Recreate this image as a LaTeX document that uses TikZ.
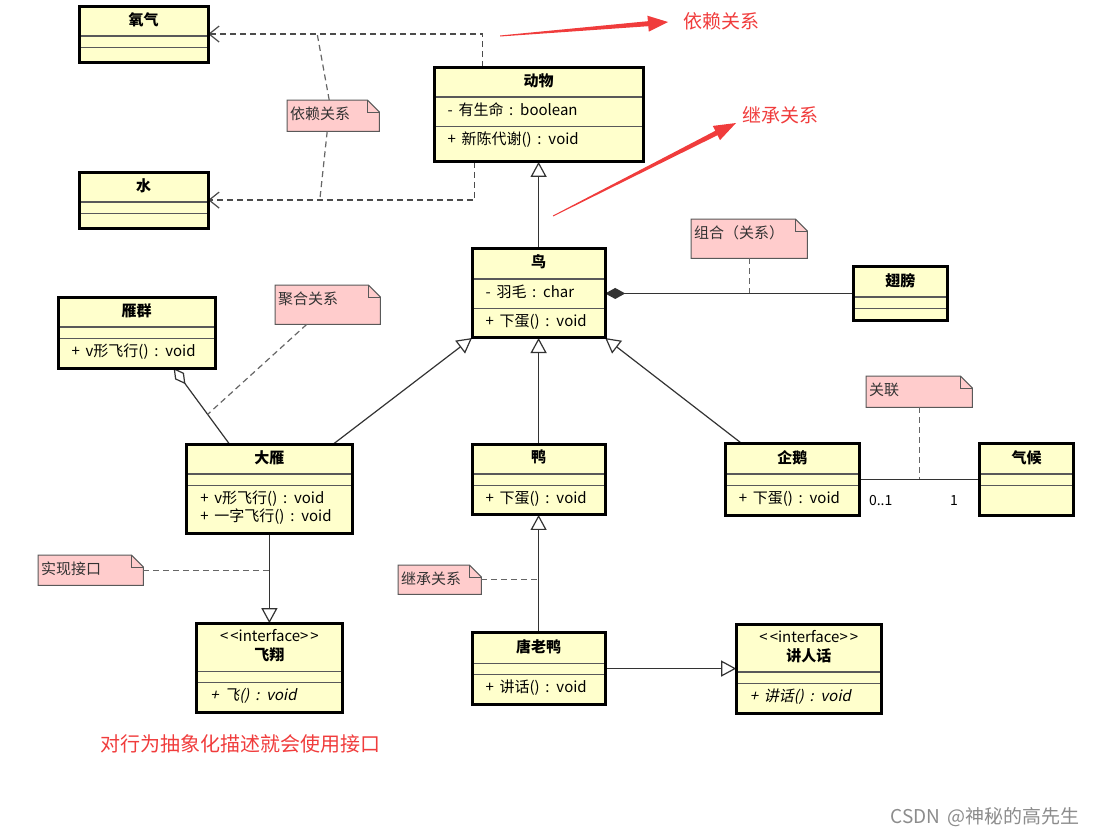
\documentclass[tikz,border=0pt]{standalone}
\usepackage{fontspec}
\setmainfont{Noto Sans CJK SC}[AutoFakeSlant=0.2,WordSpace=1.7]
\usetikzlibrary{arrows.meta,shapes.multipart,positioning,backgrounds}
\definecolor{classfill}{RGB}{255,255,204}
\definecolor{notefill}{RGB}{255,204,204}
\definecolor{annred}{RGB}{240,60,60}

\begin{document}
\begin{tikzpicture}[x=1pt,y=-1pt,
	font=\fontsize{15}{18}\selectfont,
	cls/.style={rectangle split,rectangle split parts=3,rectangle split part align={center,left,left},
		draw=black!65,line width=1.2pt,fill=classfill,inner xsep=13pt,inner ysep=5pt},
	border/.style={draw=black,line width=3pt},
	depend/.style={draw=black!70,line width=1.2pt,dash pattern=on 6pt off 4pt,-{Straight Barb[length=10pt,width=16pt]}},
	inherit/.style={draw=black!80,line width=1.2pt,-{Triangle[length=15pt,width=16pt,fill=white]}},
	compose/.style={draw=black!80,line width=1.2pt,{Diamond[length=20pt,width=11pt]}-},
	aggregate/.style={draw=black!80,line width=1.2pt,{Diamond[open,length=20pt,width=11pt]}-},
	assoc/.style={draw=black!80,line width=1.2pt},
	mult/.style={font=\fontsize{14}{16}\selectfont,inner sep=0pt},
	notelink/.style={draw=black!60,line width=1.2pt,dash pattern=on 6pt off 4pt},
	notebox/.style={anchor=north west,inner xsep=3pt,inner ysep=3pt,text height=16pt,align=left,text=black!80},
	notepaper/.style={draw=black!65,line width=1pt,fill=notefill},
	annot/.style={text=annred,font=\fontsize{19}{22}\selectfont}]
	\useasboundingbox (0,0) rectangle (1097,835);

	% classes (empty compartments hold a hair-thin kern)
	\node[cls,anchor=north west,minimum width=128pt] (oxygen) at (79,6) {\strut\textbf{氧气}\nodepart{two}\kern0.01pt\nodepart{three}\kern0.01pt\rule{0pt}{3pt}};
	\node[cls,minimum width=128pt,below=110pt of oxygen] (water) {\strut\textbf{水}\nodepart{two}\kern0.01pt\nodepart{three}\kern0.01pt\rule{0pt}{3pt}};
	\node[cls,anchor=north west,minimum width=208pt] (animal) at (434,67) {\strut\textbf{动物}\nodepart{two}\strut- 有生命 : boolean\nodepart{three}\strut+ 新陈代谢() : void\rule[-11pt]{0pt}{0pt}};
	\node[cls,minimum width=132pt,below=87pt of animal] (bird) {\strut\textbf{鸟}\nodepart{two}\strut- 羽毛 : char\nodepart{three}\strut+ 下蛋() : void};
	\node[cls,minimum width=93pt,right=248pt of bird] (wing) {\strut\textbf{翅膀}\nodepart{two}\kern0.01pt\nodepart{three}\kern0.01pt};
	\node[cls,anchor=north west,minimum width=156pt] (flock) at (58,297) {\strut\textbf{雁群}\nodepart{two}\kern0.01pt\nodepart{three}\strut+ v形飞行() : void};
	\node[cls,minimum width=132pt,below=106pt of bird] (duck) {\strut\textbf{鸭}\nodepart{two}\kern0.01pt\nodepart{three}\strut+ 下蛋() : void};
	\node[cls,minimum width=164pt,left=120pt of duck.north west,anchor=north east] (wildgoose) {\strut\textbf{大雁}\nodepart{two}\kern0.01pt\nodepart{three}\begin{tabular}{@{}l@{}}+ v形飞行() : void\\+ 一字飞行() : void\end{tabular}};
	\node[cls,minimum width=132pt,below=118pt of duck] (tangduck) {\strut\textbf{唐老鸭}\nodepart{two}\kern0.01pt\nodepart{three}\strut+ 讲话() : void};
	\node[cls,minimum width=133pt,right=120pt of duck] (penguin) {\strut\textbf{企鹅}\nodepart{two}\kern0.01pt\nodepart{three}\strut+ 下蛋() : void};
	\node[cls,minimum width=93pt,right=120pt of penguin] (climate) {\strut\textbf{气候}\nodepart{two}\kern0.01pt\nodepart{three}\strut};
	\node[cls,minimum width=144pt,below=90pt of wildgoose] (fly) {\begin{tabular}{@{}c@{}}<\kern2pt<interface>\kern2pt>\\\textbf{飞翔}\end{tabular}\nodepart{two}\kern0.01pt\nodepart{three}\strut\textit{+ 飞() : void}};
	\node[cls,minimum width=144pt,right=131pt of tangduck] (speak) {\begin{tabular}{@{}c@{}}<\kern2pt<interface>\kern2pt>\\\textbf{讲人话}\end{tabular}\nodepart{two}\kern0.01pt\nodepart{three}\strut\textit{+ 讲话() : void}};

	% notes
	\node[notebox,text width=86pt,text depth=9pt] (depnote) at (287,100) {依赖关系};
	\node[notebox,text width=110pt,text depth=17pt] (compnote) at (691,219) {组合（关系）};
	\node[notebox,text width=99pt,text depth=17pt] (aggnote) at (275,285) {聚合关系};
	\node[notebox,text width=100pt,text depth=9pt] (assocnote) at (866,376) {关联};
	\node[notebox,text width=99pt,text depth=8pt] (realnote) at (38,555) {实现接口};
	\node[notebox,text width=77pt,text depth=7pt] (inhnote) at (398,565) {继承关系};
	\begin{scope}[on background layer]
		\foreach \n in {depnote,compnote,aggnote,assocnote,realnote,inhnote}{
			\draw[notepaper] (\n.south west) -- (\n.north west) -- ([xshift=-12pt]\n.north east) -- ([yshift=-12pt]\n.north east) -- (\n.south east) -- cycle;
			\draw[notepaper,fill=none] ([xshift=-12pt]\n.north east) |- ([yshift=-12pt]\n.north east);
		}
	\end{scope}

	% relations
	\coordinate (oxyjoint) at (317,33);
	\coordinate (waterjoint) at (320,198);
	\draw[depend] ([xshift=-56pt]animal.north) |- (oxygen.east);
	\draw[depend] ([xshift=-64pt]animal.south) |- (water.east);
	\draw[notelink] ([xshift=-4pt]depnote.north) -- (oxyjoint);
	\draw[notelink] ([xshift=-6pt]depnote.south) -- (waterjoint);
	\draw[inherit] (bird.north) -- (animal.south);
	\draw[compose] (bird.east) -- (wing.west);
	\draw[notelink] (compnote.south) -- (compnote.south |- bird.east);
	\draw[aggregate] ([xshift=37pt]flock.south) -- coordinate[pos=0.61] (aggjoint) ([xshift=-40pt]wildgoose.north);
	\draw[notelink] ([xshift=-21pt]aggnote.south) -- (aggjoint);
	\draw[inherit] ([xshift=64pt]wildgoose.north) -- (bird.south west);
	\draw[inherit] (duck.north) -- (bird.south);
	\draw[inherit] ([xshift=-50pt]penguin.north) -- (bird.south east);
	\draw[assoc] (penguin.east) -- node[mult,at start,anchor=north west,xshift=9pt,yshift=-15pt] {0..1} node[mult,at end,anchor=north east,xshift=-21pt,yshift=-15pt] {1} (climate.west);
	\draw[notelink] (assocnote.south) -- (assocnote.south |- penguin.east);
	\draw[inherit] (wildgoose.south) -- (fly.north);
	\draw[notelink] (realnote.east) -- (realnote.east -| wildgoose.south);
	\draw[inherit] (tangduck.north) -- (duck.south);
	\draw[notelink] (inhnote.east) -- (inhnote.east -| duck.south);
	\draw[inherit] (tangduck.east) -- (speak.west);

	\foreach \c in {oxygen,water,animal,bird,wing,flock,wildgoose,duck,tangduck,penguin,climate,fly,speak}
		\draw[border] (\c.north west) rectangle (\c.south east);

	% red remarks
	\fill[annred] (500,35.5) -- (647.9,21.2) -- (647.4,15.7) -- (668,22) -- (648.8,31.7) -- (648.3,26.2) -- (500,36.5) -- cycle;
	\fill[annred] (552.8,215.6) -- (715.3,130.8) -- (712.8,125.9) -- (736,123) -- (720.0,140.1) -- (717.5,135.2) -- (553.2,216.4) -- cycle;
	\node[annot] (deplabel) at (721,21) {依赖关系};
	\node[annot] (inhlabel) at (780,115) {继承关系};
	\node[annot,font=\fontsize{20}{24}\selectfont] (ifacelabel) at (240,744) {对行为抽象化描述就会使用接口};
	\node[text=black!45,font=\fontsize{19}{22}\selectfont] (mark) at (985,817) {CSDN @神秘的高先生};
\end{tikzpicture}
\end{document}
